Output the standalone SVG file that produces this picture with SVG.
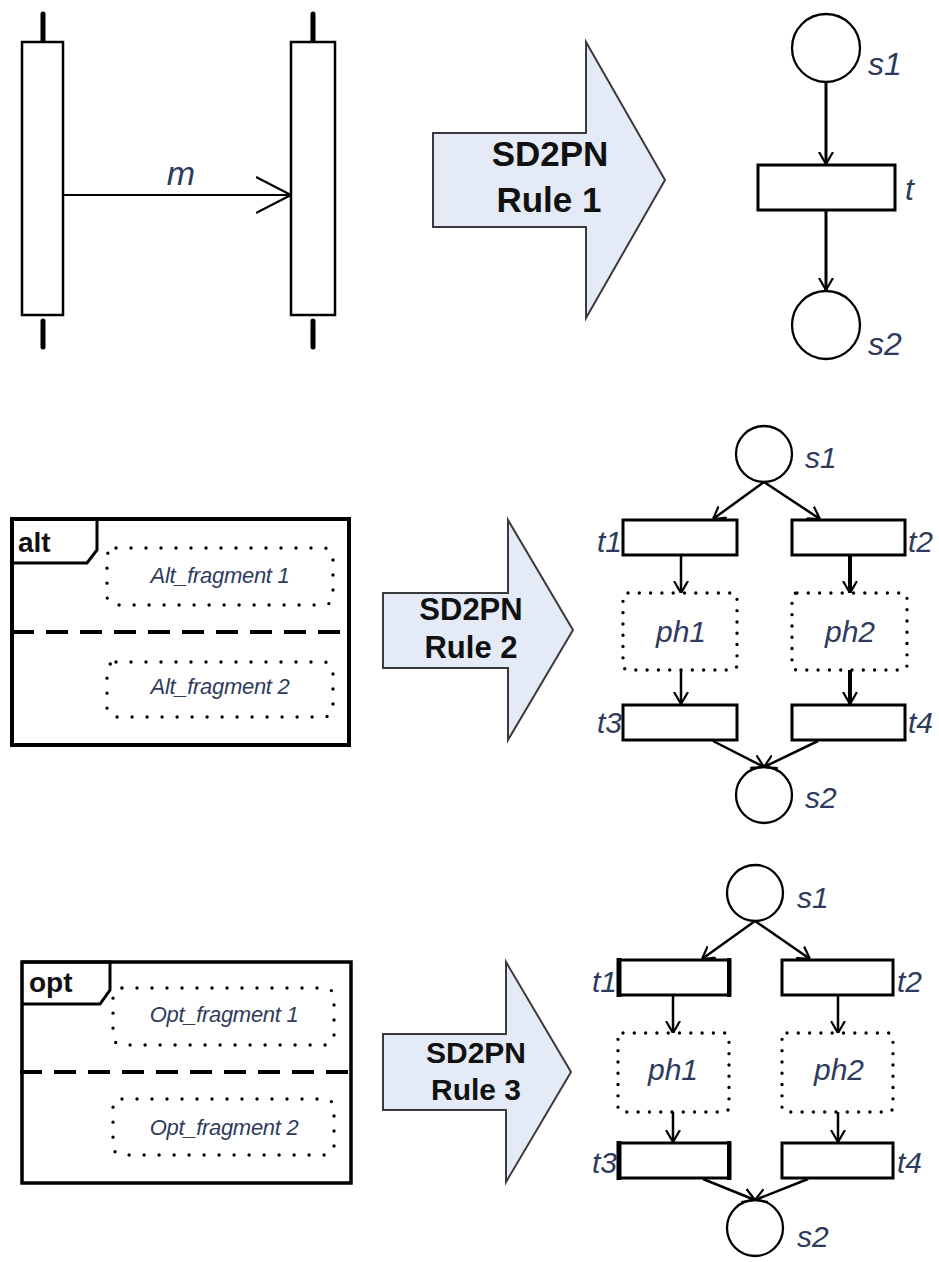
<svg xmlns="http://www.w3.org/2000/svg" width="939" height="1262" viewBox="0 0 939 1262">
<style>
  .ln{fill:none;stroke:#000;stroke-width:2.5}
  .box{fill:#fff;stroke:#000;stroke-width:2.5}
  .tr{fill:#fff;stroke:#000;stroke-width:3}
  .pl{fill:#fff;stroke:#000;stroke-width:2.3}
  .dot{fill:none;stroke:#000;stroke-width:3.4;stroke-dasharray:0 15;stroke-linecap:round}
  .dot2{fill:none;stroke:#000;stroke-width:3.4;stroke-dasharray:0 11.3;stroke-linecap:round}
  .frame{fill:none;stroke:#000;stroke-width:4}
  .dash{fill:none;stroke:#000;stroke-width:4;stroke-dasharray:22 12}
  .big{fill:#e4ebf6;stroke:#3a3a3a;stroke-width:2}
  .rule{font-family:'Liberation Sans',Arial,sans-serif;font-weight:bold;fill:#111;text-anchor:middle}
  .lab{font-family:'Liberation Sans',Arial,sans-serif;font-style:italic;fill:#2f3b5c}
  .frag{font-family:'Liberation Sans',Arial,sans-serif;font-style:italic;fill:#2f3b5c;font-size:22px;text-anchor:middle;letter-spacing:-0.3px}
  .op{font-family:'Liberation Sans',Arial,sans-serif;font-weight:bold;fill:#111;font-size:28px}
  .stub{stroke:#000;stroke-width:5;stroke-linecap:round}
</style>
<defs>
  <marker id="pa" viewBox="0 0 12 16" refX="12" refY="8" markerWidth="12" markerHeight="16" markerUnits="userSpaceOnUse" orient="auto">
    <path d="M0,1 L12,8 L0,15" fill="none" stroke="#000" stroke-width="2.2"/>
  </marker>
  <marker id="ma" viewBox="0 0 36 38" refX="35" refY="19" markerWidth="36" markerHeight="38" markerUnits="userSpaceOnUse" orient="auto">
    <path d="M0,1 L35,19 L0,37" fill="none" stroke="#000" stroke-width="2.2"/>
  </marker>
</defs>

<!-- Row 1: sequence diagram -->
<g id="lifeline1">
  <line class="stub" x1="43" y1="14" x2="43" y2="42"/>
  <line class="stub" x1="43" y1="321" x2="43" y2="347"/>
  <rect class="box" x="22" y="42" width="41" height="273"/>
</g>
<g id="lifeline2">
  <line class="stub" x1="313" y1="14" x2="313" y2="42"/>
  <line class="stub" x1="313" y1="321" x2="313" y2="347"/>
  <rect class="box" x="291" y="42" width="44" height="273"/>
</g>
<g id="rule1">
  <polygon class="big" points="433,133 586,133 586,42 665,180 586,318 586,227 433,227"/>
  <text class="rule" x="550" y="166" font-size="35">SD2PN</text>
  <text class="rule" x="549" y="212" font-size="35">Rule 1</text>
</g>
<g id="pn1-s1"><circle class="pl" cx="826" cy="48" r="34"/><text class="lab" x="868" y="75" font-size="32">s1</text></g>
<g id="pn1-t"><rect class="tr" x="758" y="165" width="137" height="45"/><text class="lab" x="905" y="200" font-size="32">t</text></g>
<g id="pn1-s2"><circle class="pl" cx="826" cy="325" r="34"/><text class="lab" x="868" y="355" font-size="32">s2</text></g>

<!-- Row 2 -->
<g id="alt-frame">
  <rect class="frame" x="12" y="519" width="337" height="226"/>
  <path d="M12,519 L97,519 L97,550 L87,563 L12,563" fill="none" stroke="#000" stroke-width="3"/>
  <text class="op" x="18" y="552">alt</text>
  <line class="dash" x1="12" y1="632" x2="351" y2="632"/>
</g>
<g id="alt-frag1">
  <rect class="dot" x="107" y="548" width="226" height="57" rx="9"/>
  <text class="frag" x="220" y="583">Alt_fragment 1</text>
</g>
<g id="alt-frag2">
  <rect class="dot" x="107" y="662" width="226" height="55" rx="9"/>
  <text class="frag" x="220" y="694">Alt_fragment 2</text>
</g>
<g id="rule2">
  <polygon class="big" points="383,593 508,593 508,520 573,630 508,740 508,668 383,668"/>
  <text class="rule" x="471" y="620" font-size="31">SD2PN</text>
  <text class="rule" x="471" y="658" font-size="31">Rule 2</text>
</g>
<g id="pn2-s1"><circle class="pl" cx="764" cy="454" r="28"/><text class="lab" x="805" y="468" font-size="30">s1</text></g>
<g id="pn2-t1"><rect class="tr" x="623" y="520" width="114" height="35"/><text class="lab" x="622" y="552" font-size="30" text-anchor="end">t1</text></g>
<g id="pn2-t2"><rect class="tr" x="792" y="520" width="113" height="35"/><text class="lab" x="908" y="552" font-size="30">t2</text></g>
<g id="pn2-ph1"><rect class="dot2" x="623" y="593" width="114" height="77" rx="5"/><text class="lab" x="681" y="642" font-size="30" text-anchor="middle">ph1</text></g>
<g id="pn2-ph2"><rect class="dot2" x="792" y="593" width="115" height="77" rx="5"/><text class="lab" x="850" y="642" font-size="30" text-anchor="middle">ph2</text></g>
<g id="pn2-t3"><rect class="tr" x="623" y="705" width="114" height="35"/><text class="lab" x="622" y="733" font-size="30" text-anchor="end">t3</text></g>
<g id="pn2-t4"><rect class="tr" x="792" y="705" width="113" height="35"/><text class="lab" x="908" y="733" font-size="30">t4</text></g>
<g id="pn2-s2"><circle class="pl" cx="764" cy="795" r="28"/><text class="lab" x="805" y="808" font-size="30">s2</text></g>

<!-- Row 3 -->
<g id="opt-frame">
  <rect class="frame" x="22" y="962" width="329" height="221" style="stroke-width:3.5"/>
  <path d="M22,962 L110,962 L110,990 L100,1004 L22,1004" fill="none" stroke="#000" stroke-width="3"/>
  <text class="op" x="29" y="992">opt</text>
  <line class="dash" x1="20" y1="1072" x2="353" y2="1072"/>
</g>
<g id="opt-frag1">
  <rect class="dot" x="113" y="988" width="221" height="57" rx="9"/>
  <text class="frag" x="224" y="1022">Opt_fragment 1</text>
</g>
<g id="opt-frag2">
  <rect class="dot" x="113" y="1099" width="221" height="56" rx="9"/>
  <text class="frag" x="224" y="1135">Opt_fragment 2</text>
</g>
<g id="rule3">
  <polygon class="big" points="383,1034 506,1034 506,962 571,1072 506,1182 506,1110 383,1110"/>
  <text class="rule" x="476" y="1063" font-size="30">SD2PN</text>
  <text class="rule" x="476" y="1100" font-size="30">Rule 3</text>
</g>
<g id="pn3-s1"><circle class="pl" cx="755" cy="893" r="28"/><text class="lab" x="797" y="908" font-size="30">s1</text></g>
<g id="pn3-t1"><rect class="tr" x="619" y="960" width="111" height="35"/><line x1="619" y1="958" x2="619" y2="997" stroke="#000" stroke-width="5"/><line x1="729" y1="958" x2="729" y2="997" stroke="#000" stroke-width="4"/><text class="lab" x="617" y="992" font-size="30" text-anchor="end">t1</text></g>
<g id="pn3-t2"><rect class="tr" x="782" y="960" width="111" height="35"/><text class="lab" x="897" y="992" font-size="30">t2</text></g>
<g id="pn3-ph1"><rect class="dot2" x="618" y="1033" width="111" height="79" rx="5"/><text class="lab" x="673" y="1080" font-size="30" text-anchor="middle">ph1</text></g>
<g id="pn3-ph2"><rect class="dot2" x="782" y="1033" width="111" height="79" rx="5"/><text class="lab" x="839" y="1080" font-size="30" text-anchor="middle">ph2</text></g>
<g id="pn3-t3"><rect class="tr" x="619" y="1143" width="111" height="35"/><line x1="619" y1="1141" x2="619" y2="1180" stroke="#000" stroke-width="5"/><line x1="729" y1="1141" x2="729" y2="1180" stroke="#000" stroke-width="4"/><text class="lab" x="617" y="1173" font-size="30" text-anchor="end">t3</text></g>
<g id="pn3-t4"><rect class="tr" x="782" y="1143" width="111" height="35"/><text class="lab" x="897" y="1173" font-size="30">t4</text></g>
<g id="pn3-s2"><circle class="pl" cx="755" cy="1228" r="28"/><text class="lab" x="797" y="1247" font-size="30">s2</text></g>

<!-- Connectors -->
<g id="connectors">
  <line x1="63" y1="195" x2="291" y2="195" stroke="#000" stroke-width="2.2" marker-end="url(#ma)"/>
  <text class="lab" x="181" y="185" font-size="34" text-anchor="middle">m</text>

  <line class="ln" x1="826" y1="82" x2="826" y2="164" style="stroke-width:3" marker-end="url(#pa)"/>
  <line class="ln" x1="826" y1="210" x2="826" y2="290" style="stroke-width:3" marker-end="url(#pa)"/>

  <line class="ln" x1="764" y1="482" x2="713" y2="519" marker-end="url(#pa)"/>
  <line class="ln" x1="764" y1="482" x2="820" y2="519" marker-end="url(#pa)"/>
  <line class="ln" x1="681" y1="556" x2="681" y2="593" marker-end="url(#pa)"/>
  <line class="ln" x1="850" y1="556" x2="850" y2="593" style="stroke-width:4" marker-end="url(#pa)"/>
  <line class="ln" x1="681" y1="670" x2="681" y2="704" marker-end="url(#pa)"/>
  <line class="ln" x1="850" y1="670" x2="850" y2="704" style="stroke-width:4" marker-end="url(#pa)"/>
  <line class="ln" x1="713" y1="741" x2="764" y2="767" marker-end="url(#pa)"/>
  <line class="ln" x1="818" y1="741" x2="764" y2="767" marker-end="url(#pa)"/>

  <line class="ln" x1="755" y1="921" x2="702" y2="959" marker-end="url(#pa)"/>
  <line class="ln" x1="755" y1="921" x2="810" y2="959" marker-end="url(#pa)"/>
  <line class="ln" x1="673" y1="996" x2="673" y2="1033" marker-end="url(#pa)"/>
  <line class="ln" x1="838" y1="996" x2="838" y2="1033" marker-end="url(#pa)"/>
  <line class="ln" x1="673" y1="1112" x2="673" y2="1142" marker-end="url(#pa)"/>
  <line class="ln" x1="838" y1="1112" x2="838" y2="1142" marker-end="url(#pa)"/>
  <line class="ln" x1="703" y1="1179" x2="755" y2="1200" marker-end="url(#pa)"/>
  <line class="ln" x1="808" y1="1179" x2="755" y2="1200" marker-end="url(#pa)"/>
</g>
</svg>
